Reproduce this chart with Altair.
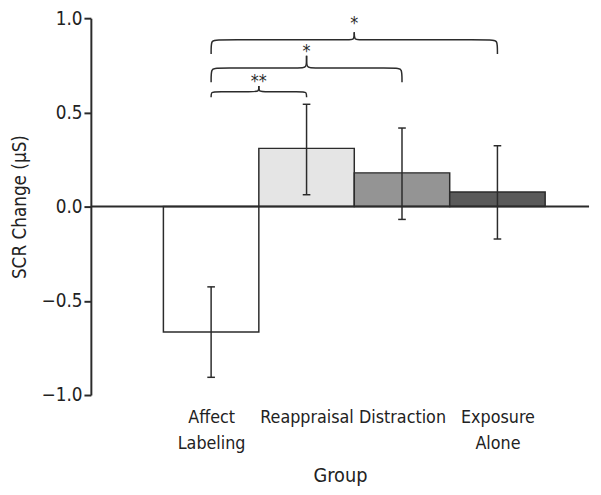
import json
import altair as alt
import pandas as pd

# ---- data ----
groups = ["Affect Labeling", "Reappraisal", "Distraction", "Exposure Alone"]
means = [-0.666, 0.309, 0.179, 0.077]
err_lo = [-0.906, 0.063, -0.068, -0.172]
err_hi = [-0.426, 0.543, 0.417, 0.323]
fills = ["#ffffff", "#e5e5e5", "#949494", "#5a5a5a"]

# significance brackets (group index pairs) and their labels
br_from = [0, 0, 0]
br_to = [1, 2, 3]
br_label = ["**", "*", "*"]
br_level = [0.61, 0.735, 0.885]
br_end = [0.58, 0.66, 0.81]
br_cusp = [0.64, 0.80, 0.925]
br_star = [0.687, 0.846, 0.996]

FONT = "Liberation Sans Narrow, DejaVu Sans Condensed, Arial Narrow, sans-serif"
INK = "#2b2b2b"

bars = pd.DataFrame({
    "group": groups, "i": list(range(len(groups))), "mean": means,
    "lo": err_lo, "hi": err_hi,
})
bars["x0"] = bars["i"] - 0.5
bars["x1"] = bars["i"] + 0.5
bars["c0"] = bars["i"] - 0.04
bars["c1"] = bars["i"] + 0.04

# bracket outlines
r = 0.05
rows = []
for k in range(len(br_from)):
    a, b = br_from[k], br_to[k]
    m = (a + b) / 2
    yl, ye, yc = br_level[k], br_end[k], br_cusp[k]
    left = [(a, ye), (a, yl), (a + r, yl), (m - r, yl), (m, yl), (m, yc)]
    right = [(b, ye), (b, yl), (b - r, yl), (m + r, yl), (m, yl), (m, yc)]
    for side, pts in (("L", left), ("R", right)):
        for o, (px, py) in enumerate(pts):
            rows.append({"seg": f"{k}{side}", "o": o, "x": px, "y": py})
braces = pd.DataFrame(rows)
stars = pd.DataFrame({
    "x": [(a + b) / 2 for a, b in zip(br_from, br_to)],
    "y": br_star, "t": br_label,
})

xscale = alt.Scale(domain=[-1.26, 3.96], nice=False, zero=False)
yscale = alt.Scale(domain=[-1, 1], nice=False)

label_expr = "split(" + json.dumps(groups) + "[datum.value], ' ')"

base = alt.Chart(bars)

bar_layer = base.mark_bar(stroke=INK, strokeWidth=1.5).encode(
    x=alt.X("x0:Q", scale=xscale,
            axis=alt.Axis(values=[0, 1, 2, 3], labelExpr=label_expr, title="Group",
                          domain=False, ticks=False, grid=False, labelPadding=14,
                          labelLineHeight=26, titlePadding=14, labelOverlap=False,
                          labelFlush=False, labelFontSize=18)),
    x2="x1:Q",
    y=alt.Y("mean:Q", scale=yscale,
            axis=alt.Axis(values=[-1, -0.5, 0, 0.5, 1], format=".1f", grid=False,
                          title="SCR Change (µS)", tickSize=7, tickWidth=2,
                          domainWidth=2, labelPadding=2, titlePadding=12,
                          labelOverlap=False)),
    y2=alt.datum(0),
    fill=alt.Color("group:N", scale=alt.Scale(domain=groups, range=fills), legend=None),
)

zero = alt.Chart(pd.DataFrame({"y": [0]})).mark_rule(color=INK, strokeWidth=2).encode(
    y=alt.Y("y:Q", scale=yscale)
)

err = base.mark_rule(color=INK, strokeWidth=1.5).encode(
    x=alt.X("i:Q", scale=xscale), y=alt.Y("lo:Q", scale=yscale), y2="hi:Q"
)
cap_lo = base.mark_rule(color=INK, strokeWidth=1.5).encode(
    x=alt.X("c0:Q", scale=xscale), x2="c1:Q", y=alt.Y("lo:Q", scale=yscale)
)
cap_hi = base.mark_rule(color=INK, strokeWidth=1.5).encode(
    x=alt.X("c0:Q", scale=xscale), x2="c1:Q", y=alt.Y("hi:Q", scale=yscale)
)

brace_layer = alt.Chart(braces).mark_line(
    color=INK, strokeWidth=1.5, interpolate="basis"
).encode(
    x=alt.X("x:Q", scale=xscale), y=alt.Y("y:Q", scale=yscale),
    detail="seg:N", order="o:Q",
)

star_layer = alt.Chart(stars).mark_text(
    font=FONT, fontSize=18, color=INK, baseline="middle", dy=5
).encode(
    x=alt.X("x:Q", scale=xscale), y=alt.Y("y:Q", scale=yscale), text="t:N"
)

chart = alt.layer(
    bar_layer, zero, err, cap_lo, cap_hi, brace_layer, star_layer
).properties(
    width=505, height=382,
    autosize=alt.AutoSizeParams(type="none"),
    padding={"left": 84, "top": 7, "right": 4, "bottom": 96},
).configure_view(stroke=None).configure_axis(
    labelFont=FONT, titleFont=FONT, labelFontSize=20, titleFontSize=20,
    labelColor="#222222", titleColor="#222222", domainColor=INK, tickColor=INK,
    titleFontWeight="normal",
).configure_axisY(labelFontSize=19, titleFontSize=19)

chart.save("out.html", embed_options={"renderer": "svg", "actions": False})
